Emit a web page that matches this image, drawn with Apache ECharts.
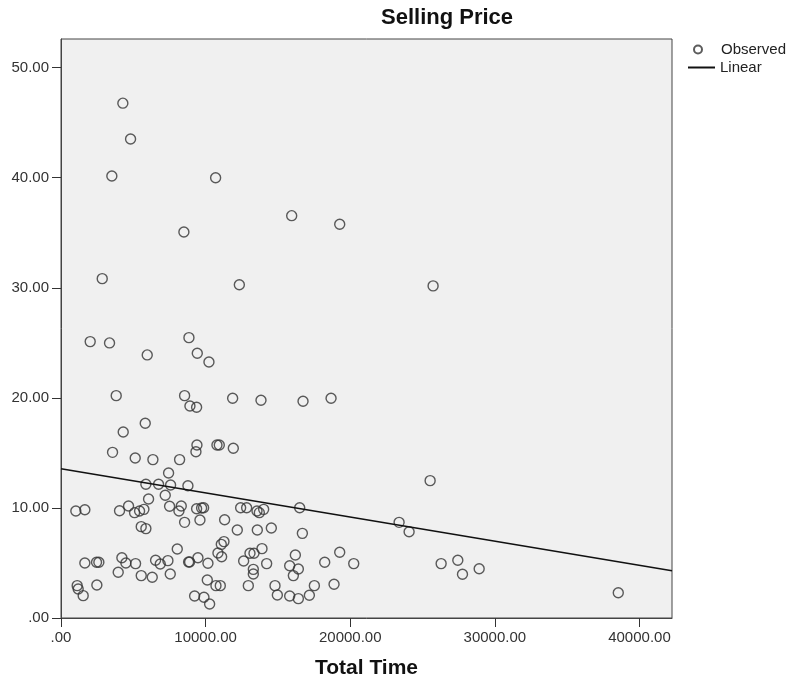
<!DOCTYPE html>
<html>
<head>
<meta charset="utf-8">
<script src="https://cdn.jsdelivr.net/npm/echarts@6/dist/echarts.min.js"></script>
<style>
  html, body { margin: 0; padding: 0; background: #fff; }
  #main { width: 792px; height: 687px; }
</style>
</head>
<body>
<div id="main"></div>
<script>
// Total Time (x) and Selling Price (y)
const totalTime = [
  4277, 4810, 3516, 10692, 15952, 19273, 8498, 2851, 12332, 25730,
  2019, 3356, 8847, 5963, 9424, 10231, 3818, 8547, 8916, 9377,
  11869, 13829, 16736, 18674, 5825, 4302, 9400, 9331, 10784, 10946,
  11915, 3564, 5132, 6355, 8201, 7439, 5870, 6747, 7578, 8777,
  7208, 6055, 1026, 1649, 4048, 4671, 5087, 5433, 5733, 7509,
  8155, 8316, 9377, 9723, 9862, 8547, 9608, 11315, 12422, 12837,
  13552, 13714, 14014, 16505, 5548, 5870, 12191, 13575, 14544, 16690,
  11268, 11084, 10853, 11107, 8040, 13068, 13345, 13898, 16205, 19273,
  1649, 2457, 2618, 4210, 4487, 5156, 6540, 6863, 7393, 8824,
  8893, 9469, 10161, 12630, 14221, 15813, 16413, 16067, 13299, 13299,
  18235, 20242, 3956, 5548, 6309, 7555, 10116, 1119, 1188, 1534,
  2480, 10715, 11015, 12953, 14798, 17520, 18881, 9239, 9885, 10277,
  14960, 15813, 16413, 17174, 25525, 23379, 24071, 26286, 27439, 27762,
  28916, 38535
];
const sellingPrice = [
  46.77, 43.52, 40.16, 40.0, 36.55, 35.77, 35.07, 30.83, 30.28, 30.17,
  25.11, 24.99, 25.47, 23.90, 24.05, 23.26, 20.20, 20.20, 19.26, 19.14,
  19.96, 19.78, 19.69, 19.96, 17.69, 16.90, 15.72, 15.11, 15.72, 15.72,
  15.42, 15.05, 14.54, 14.39, 14.39, 13.17, 12.15, 12.15, 12.08, 12.02,
  11.15, 10.81, 9.72, 9.84, 9.75, 10.18, 9.57, 9.72, 9.87, 10.15,
  9.72, 10.18, 9.93, 9.99, 10.02, 8.69, 8.90, 8.93, 10.02, 10.02,
  9.72, 9.57, 9.87, 10.02, 8.30, 8.12, 8.00, 8.00, 8.18, 7.69,
  6.94, 6.69, 5.91, 5.57, 6.27, 5.88, 5.88, 6.30, 5.72, 5.97,
  5.00, 5.06, 5.06, 5.48, 5.00, 4.94, 5.24, 4.91, 5.21, 5.09,
  5.09, 5.48, 4.97, 5.18, 4.94, 4.75, 4.45, 3.85, 4.42, 4.00,
  5.06, 4.94, 4.15, 3.85, 3.70, 4.00, 3.45, 2.94, 2.63, 2.03,
  3.00, 2.94, 2.94, 2.94, 2.94, 2.94, 3.06, 2.00, 1.88, 1.27,
  2.09, 2.00, 1.76, 2.06, 12.48, 8.69, 7.84, 4.94, 5.24, 3.97,
  4.48, 2.30
];
// Linear fit line end points
const linearX = [0, 42250];
const linearY = [13.56, 4.29];

const xTicks = { min: 0, max: 42250, interval: 10000 };
const yTicks = { min: 0, max: 52.6, interval: 10 };

const observed = totalTime.map((t, i) => [t, sellingPrice[i]]);
const linear = linearX.map((t, i) => [t, linearY[i]]);

const fmt = v => (v === 0 ? '.00' : v.toFixed(2));
const font = 'Liberation Sans, Arial, sans-serif';

const chart = echarts.init(document.getElementById('main'));

chart.setOption({
  animation: false,
  title: {
    text: 'Selling Price',
    left: 381,
    top: 7,
    padding: 0,
    textStyle: { fontFamily: font, fontSize: 22, fontWeight: 'bold', color: '#111' }
  },
  legend: [
    {
      left: 693,
      top: 42,
      padding: 0,
      itemWidth: 8,
      itemHeight: 8,
      textStyle: { fontFamily: font, fontSize: 15, color: '#222', padding: [0, 0, 0, 14] },
      data: ['Observed']
    },
    {
      left: 688,
      top: 60,
      padding: 0,
      itemWidth: 27,
      itemHeight: 2,
      textStyle: { fontFamily: font, fontSize: 15, color: '#222' },
      data: [{ name: 'Linear', icon: 'rect' }]
    }
  ],
  grid: {
    left: 61,
    right: 120,
    top: 39,
    bottom: 69,
    show: true,
    backgroundColor: '#f0f0f0',
    borderColor: '#444',
    borderWidth: 1
  },
  xAxis: {
    type: 'value',
    min: xTicks.min,
    max: xTicks.max,
    interval: xTicks.interval,
    name: 'Total Time',
    nameLocation: 'middle',
    nameGap: 40,
    nameTextStyle: { fontFamily: font, fontSize: 21, fontWeight: 'bold', color: '#111' },
    splitLine: { show: false },
    axisLine: { lineStyle: { color: '#444' } },
    axisTick: { length: 9, lineStyle: { color: '#333' } },
    axisLabel: {
      showMaxLabel: false,
      formatter: fmt,
      fontFamily: font,
      fontSize: 15,
      color: '#333',
      margin: 12
    }
  },
  yAxis: {
    type: 'value',
    min: yTicks.min,
    max: yTicks.max,
    interval: yTicks.interval,
    splitLine: { show: false },
    axisLine: { show: true, lineStyle: { color: '#444' } },
    axisTick: { show: true, length: 9, lineStyle: { color: '#333' } },
    axisLabel: {
      showMaxLabel: false,
      formatter: fmt,
      fontFamily: font,
      fontSize: 15,
      color: '#333',
      margin: 12
    }
  },
  series: [
    {
      name: 'Observed',
      type: 'scatter',
      symbol: 'circle',
      symbolSize: 10,
      itemStyle: { color: 'rgba(0,0,0,0)', borderColor: '#333', borderWidth: 1.4 },
      data: observed
    },
    {
      name: 'Linear',
      type: 'line',
      symbol: 'none',
      lineStyle: { color: '#111', width: 1.5 },
      itemStyle: { color: '#111' },
      data: linear
    }
  ]
});
</script>
</body>
</html>
